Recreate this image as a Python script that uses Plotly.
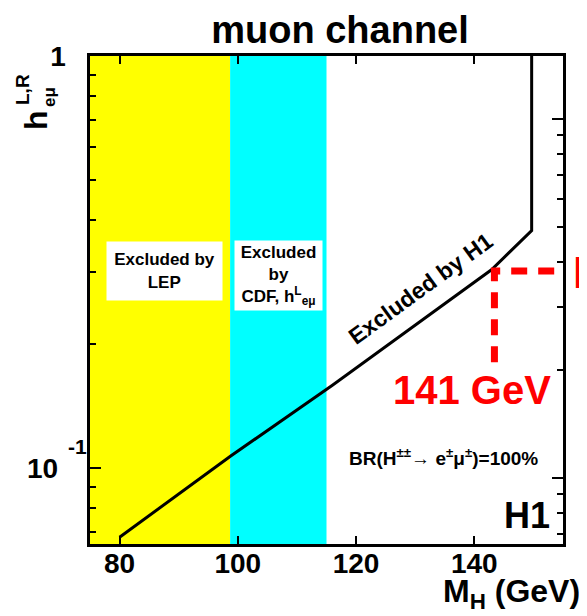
import plotly.graph_objects as go

# H1 exclusion contour (muon channel)
h1_mass = [80.0, 98.8, 116.0, 142.9, 149.7, 149.7]
h1_coupling = [0.068, 0.107, 0.159, 0.303, 0.377, 1.0]

# excluded regions from other experiments (GeV)
lep_limit = 98.7
cdf_limit = 115.0

# red marker for 141 GeV (read against the right-hand axis)
mark_mass = [143.4, 143.4, 155.0]
mark_coupling = [0.21, 0.377, 0.377]

x_ticks = [80, 100, 120, 140]
y_major = [0.1, 1]
y_major_text = ["10&nbsp;&nbsp;&nbsp;", "1&nbsp;&nbsp;"]
y_minor = [0.07, 0.08, 0.09, 0.2, 0.3, 0.4, 0.5, 0.6, 0.7, 0.8, 0.9]

FONT = "Liberation Sans, Arial, sans-serif"

# page is drawn with the browser's 8px body margin
OFF = 8
W, H = 587, 616
L, R, T, B = 90, 563, 56, 544


def xp(px):
    return (px - L) / (R - L)


def yp(py):
    return (B - py) / (B - T)


fig = go.Figure()

fig.add_shape(type="rect", xref="x", yref="paper", x0=75, x1=lep_limit, y0=0, y1=1,
              fillcolor="#ffff00", line_width=0, layer="below")
fig.add_shape(type="rect", xref="x", yref="paper", x0=lep_limit, x1=cdf_limit, y0=0, y1=1,
              fillcolor="#00ffff", line_width=0, layer="below")

fig.add_trace(go.Scatter(
    x=h1_mass, y=h1_coupling, mode="lines",
    line=dict(color="black", width=3), showlegend=False,
))
fig.add_trace(go.Scatter(
    x=mark_mass, y=mark_coupling, mode="lines", yaxis="y2",
    line=dict(color="#ff0000", width=7, dash="16px,11px"), showlegend=False,
))

ann = [
    dict(x=xp(77), y=yp(446), text="<b>-1</b>", font=dict(size=21)),
    dict(x=xp(36), y=yp(120), text="<b>h</b>", textangle=-90, font=dict(size=32)),
    dict(x=xp(22), y=yp(90), text="<b>L,R</b>", textangle=-90, font=dict(size=19)),
    dict(x=xp(50), y=yp(97), text="<b>eμ</b>", textangle=-90, font=dict(size=17)),
    dict(x=1.04, y=yp(593), text="<b>M<sub>H</sub> (GeV)</b>", xanchor="right", font=dict(size=32)),
    dict(x=xp(164.5), y=yp(271), text="<b>Excluded by<br>LEP</b>", width=113, height=56,
         bgcolor="white", font=dict(size=17)),
    dict(x=xp(278.5), y=yp(275.5), text="<b>Excluded<br>by<br>CDF, h<sup>L</sup><sub>eμ</sub></b>",
         width=85, height=67, bgcolor="white", font=dict(size=17)),
    dict(x=xp(420), y=yp(289), text="<b>Excluded by H1</b>", textangle=-36, font=dict(size=23)),
    dict(x=xp(472), y=yp(390), text="<b>141 GeV</b>", font=dict(size=40, color="#ff0000")),
    dict(x=xp(571), y=yp(273), text="<b>h</b>", xanchor="left",
         font=dict(size=42, color="#ff0000")),
    dict(x=xp(443), y=yp(457), text="<b>BR(H<sup>±±</sup>→ e<sup>±</sup>μ<sup>±</sup>)=100%</b>",
         font=dict(size=19)),
    dict(x=xp(527), y=yp(515), text="<b>H1</b>", font=dict(size=36)),
]
for a in ann:
    a.setdefault("xref", "paper")
    a.setdefault("yref", "paper")
    a.setdefault("showarrow", False)
    a.setdefault("xanchor", "center")
    a.setdefault("yanchor", "middle")
    a["font"].setdefault("family", FONT)
    a["font"].setdefault("color", "black")
    fig.add_annotation(**a)

axis_common = dict(
    showgrid=False, zeroline=False, showline=True, linecolor="black", linewidth=3,
    ticks="inside", tickcolor="black", tickwidth=2,
)

fig.update_layout(
    width=W - OFF, height=H - OFF,
    margin=dict(l=L - OFF, r=W - R, t=T - OFF, b=H - B),
    paper_bgcolor="white", plot_bgcolor="white",
    showlegend=False,
    title=dict(
        text="<b>muon channel</b>", x=xp(340), xref="paper", xanchor="center",
        y=1 - (30 - OFF) / (H - OFF), yanchor="middle",
        font=dict(family=FONT, size=38, color="black"),
    ),
    xaxis=dict(
        **axis_common, range=[75, 155], tickvals=x_ticks, ticklen=8, mirror="ticks",
        ticklabelstandoff=-8,
        tickfont=dict(family=FONT, size=28, color="black", weight="bold"),
    ),
    yaxis=dict(
        **axis_common, type="log", range=[-1.184, 0], tickvals=y_major, ticktext=y_major_text,
        ticklen=11, mirror=True,
        minor=dict(tickvals=y_minor, ticks="inside", ticklen=6, tickwidth=2, tickcolor="black", showgrid=False),
        tickfont=dict(family=FONT, size=28, color="black", weight="bold"),
    ),
    yaxis2=dict(
        **axis_common, type="log", range=[-1.184, 0.1755], overlaying="y", side="right",
        tickvals=y_major, ticklen=11, showticklabels=False,
        minor=dict(tickvals=y_minor, ticks="inside", ticklen=6, tickwidth=2, tickcolor="black", showgrid=False),
    ),
)

fig.write_html("out.html")
